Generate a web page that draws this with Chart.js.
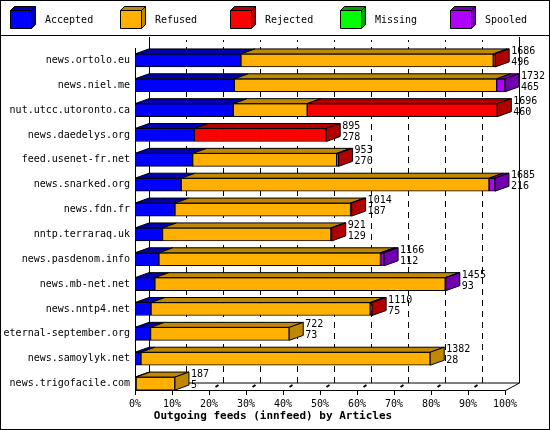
<!DOCTYPE html>
<html><head><meta charset="utf-8">
<script src="https://cdn.jsdelivr.net/npm/chart.js@4/dist/chart.umd.min.js"></script>
<style>html,body{margin:0;padding:0;background:#fff}canvas{display:block}</style>
</head><body><canvas id="c" width="550" height="430"></canvas>
<script>
const categories = ["news.ortolo.eu","news.niel.me","nut.utcc.utoronto.ca","news.daedelys.org","feed.usenet-fr.net","news.snarked.org","news.fdn.fr","nntp.terraraq.uk","news.pasdenom.info","news.mb-net.net","news.nntp4.net","eternal-september.org","news.samoylyk.net","news.trigofacile.com"];
const totals   = [1686,1732,1696,895,953,1685,1014,921,1166,1455,1110,722,1382,187];
const accepted = [496,465,460,278,270,216,187,129,112,93,75,73,28,5];
const refused  = [1181,1228,346,0,674,1441,822,788,1037,1359,1026,649,1354,182];
const rejected = [9,0,890,617,9,0,5,4,5,0,9,0,0,0];
const missing  = [0,0,0,0,0,0,0,0,0,0,0,0,0,0];
const spooled  = [0,39,0,0,0,28,0,0,12,3,0,0,0,0];
const xTickLabels = ["0%","10%","20%","30%","40%","50%","60%","70%","80%","90%","100%"];
const seriesNames = ["Accepted","Refused","Rejected","Missing","Spooled"];
const front = ["#0000ff","#ffb000","#ff0000","#00ff00","#b000ff"];
const dark  = ["#0000b0","#c08800","#b00000","#00a000","#7000b0"];
const seriesData = [accepted,refused,rejected,missing,spooled];
const maxTotal = Math.max(...totals);
const FONT = "10px 'DejaVu Sans Mono'";
const DX=14, DY=-5, WDX=14, WDY=-7;

function poly(ctx, pts, fill){
  ctx.beginPath(); ctx.moveTo(pts[0][0],pts[0][1]);
  for(const p of pts.slice(1)) ctx.lineTo(p[0],p[1]);
  ctx.closePath(); ctx.fillStyle=fill; ctx.fill();
  ctx.strokeStyle="#000"; ctx.lineWidth=1; ctx.stroke();
}

const deco = {
  id:'deco',
  beforeDatasetsDraw(chart){
    const ctx=chart.ctx, xs=chart.scales.x, a=chart.chartArea;
    const yb=a.bottom-6, top=40;
    ctx.save();
    ctx.strokeStyle="#000"; ctx.lineWidth=1;
    ctx.setLineDash([6,5]);
    for(let i=1;i<=9;i++){
      const x=Math.round(xs.getPixelForValue(i*10)+WDX)+0.5;
      ctx.beginPath(); ctx.moveTo(x,yb+WDY); ctx.lineTo(x,top); ctx.stroke();
    }
    ctx.setLineDash([]);
    const x0=Math.round(xs.getPixelForValue(0))+0.5, x1=Math.round(xs.getPixelForValue(100))+0.5;
    ctx.beginPath();
    ctx.moveTo(x0+WDX,top-3); ctx.lineTo(x0+WDX,yb+WDY); ctx.lineTo(x1+WDX,yb+WDY); ctx.lineTo(x1+WDX,top-3);
    ctx.moveTo(x1,yb+0.5); ctx.lineTo(x1+WDX,yb+WDY);
    ctx.moveTo(x0,yb+0.5); ctx.lineTo(x0+WDX,yb+WDY);
    ctx.moveTo(x0,a.top); ctx.lineTo(x0,yb+0.5); ctx.lineTo(x1,yb+0.5);
    ctx.stroke();
    for(let i=0;i<=10;i++){
      const x=Math.round(xs.getPixelForValue(i*10))+0.5;
      ctx.beginPath(); ctx.moveTo(x,yb); ctx.lineTo(x,yb+5); ctx.stroke();
      if(i>0&&i<10){ctx.beginPath(); ctx.moveTo(x+6,yb-3); ctx.lineTo(x+9,yb-5); ctx.lineWidth=2; ctx.stroke(); ctx.lineWidth=1;}
    }
    ctx.fillStyle="#000"; ctx.font=FONT; ctx.textAlign="center"; ctx.textBaseline="middle";
    xTickLabels.forEach((t,i)=>ctx.fillText(t,xs.getPixelForValue(i*10),yb+14));
    ctx.font="bold 11px 'DejaVu Sans Mono'";
    ctx.fillText("Outgoing feeds (innfeed) by Articles",273,416);
    ctx.beginPath(); ctx.moveTo(0,35.5); ctx.lineTo(550,35.5); ctx.stroke();
    ctx.font=FONT; ctx.textAlign="left";
    const lx=[10,120,230,340,450];
    seriesNames.forEach((n,i)=>{
      const x=lx[i]+0.5,y=10.5,w=21,h=18;
      poly(ctx,[[x+w,y],[x+w+4,y-4],[x+w+4,y+h-4],[x+w,y+h]],dark[i]);
      poly(ctx,[[x,y],[x+4,y-4],[x+w+4,y-4],[x+w,y]],dark[i]);
      poly(ctx,[[x,y],[x+w,y],[x+w,y+h],[x,y+h]],front[i]);
      ctx.fillStyle="#000"; ctx.fillText(n,lx[i]+35,20);
    });
    ctx.strokeRect(0.5,0.5,549,429);
    ctx.restore();
  },
  afterDatasetsDraw(chart){
    const ctx=chart.ctx;
    ctx.save();
    const metas=chart.getSortedVisibleDatasetMetas();
    categories.forEach((c,j)=>{
      let last=null;
      metas.forEach((m,di)=>{
        const el=m.data[j]; const v=seriesData[di][j];
        if(!v) return;
        const p=el.getProps(['x','y','base','height'],true);
        const l=Math.min(p.x,p.base), r=Math.max(p.x,p.base), t=p.y-p.height/2;
        poly(ctx,[[l,t],[l+DX,t+DY],[r+DX,t+DY],[r,t]],dark[di]);
        last={r,t,b:t+p.height,di,y:p.y};
      });
      if(last){
        poly(ctx,[[last.r,last.t],[last.r+DX,last.t+DY],[last.r+DX,last.b+DY],[last.r,last.b]],dark[last.di]);
        ctx.fillStyle="#000"; ctx.font=FONT; ctx.textAlign="left"; ctx.textBaseline="middle";
        ctx.fillText(String(totals[j]),last.r+DX+2,last.y-9);
        ctx.fillText(String(accepted[j]),last.r+DX+2,last.y+2);
      }
    });
    ctx.restore();
  }
};

new Chart(document.getElementById('c'),{
  type:'bar',
  data:{labels:categories,datasets:seriesNames.map((n,i)=>({
    label:n,data:seriesData[i].map(v=>v/maxTotal*100),
    backgroundColor:front[i],borderColor:"#000",borderWidth:1,borderSkipped:false,barThickness:13
  }))},
  options:{
    indexAxis:'y',responsive:false,animation:false,
    layout:{padding:{left:0,right:45,top:48,bottom:0}},
    plugins:{legend:{display:false},tooltip:{enabled:false}},
    scales:{
      x:{stacked:true,min:0,max:100,grid:{display:false},border:{display:false},ticks:{display:false},afterFit:s=>{s.height=34;}},
      y:{stacked:true,grid:{display:false,drawTicks:false,tickLength:0},border:{display:false},
         ticks:{color:"#000",font:{family:"DejaVu Sans Mono",size:10},padding:5,autoSkip:false},
         afterFit:s=>{s.width=135;}}
    }
  },
  plugins:[deco]
});
</script></body></html>
